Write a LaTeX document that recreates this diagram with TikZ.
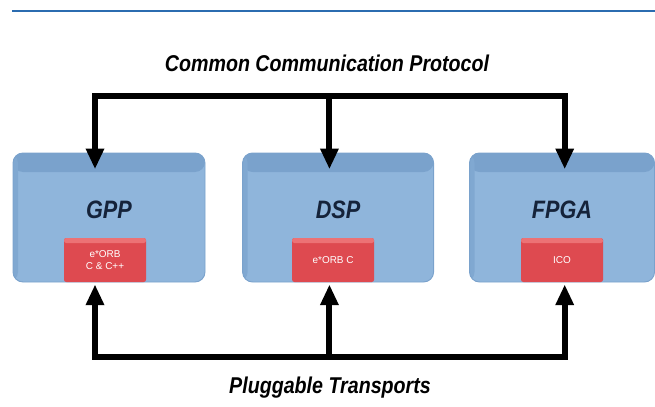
\documentclass[tikz,border=0pt]{standalone}
\usepackage{fontspec}
\setmainfont{Liberation Sans}
\newfontfamily\capfont[FakeStretch=0.86]{Liberation Sans}
\usetikzlibrary{positioning,arrows.meta}
\definecolor{boxblue}{HTML}{8FB5DB}
\definecolor{bandblue}{HTML}{7AA2CC}
\definecolor{orbred}{HTML}{DE4A50}
\definecolor{orbtop}{HTML}{EC7275}
\definecolor{rulecol}{HTML}{2B6CB0}
\definecolor{navy}{HTML}{15233A}

\begin{document}
\begin{tikzpicture}[node distance=1.1cm, auto, thick,
    unit/.style={draw=bandblue, fill=boxblue, rounded corners=0.3cm, minimum height=3.87cm,
        text depth=0.45cm, text=navy, font=\capfont\fontsize{21.5}{24}\selectfont\bfseries\itshape,
        path picture={\fill[bandblue] (path picture bounding box.north west) rectangle
            ([yshift=-0.57cm]path picture bounding box.north east);
            \fill[bandblue!70!boxblue] (path picture bounding box.north west) rectangle
            ([xshift=0.15cm]path picture bounding box.south west);}},
    orb/.style={fill=orbred, rounded corners=2pt, minimum width=2.46cm, minimum height=1.32cm,
        text=white, align=center, anchor=south, font=\fontsize{8.5}{10}\selectfont,
        path picture={\fill[orbtop] (path picture bounding box.north west) rectangle
            ([yshift=-0.15cm]path picture bounding box.north east);}},
    caption/.style={font=\capfont\fontsize{19.5}{22}\selectfont\bfseries\itshape},
    bus/.style={line width=0.18cm, line join=miter},
    tip/.style={-{Triangle[length=0.62cm,width=0.52cm]}}]

    \useasboundingbox (0,0) rectangle (19.65,-12.21);
    \draw[rulecol, line width=1.6pt] (0.36,-0.33) -- (19.65,-0.33);

    \node (ccp) [caption] at (9.81,-1.9) {Common Communication Protocol};

    \node (gpp) [unit, minimum width=5.76cm] at (3.27,-6.525) {GPP};
    \node (dsp) [unit, minimum width=5.73cm, right=of gpp] {DSP};
    \node (fpga) [unit, minimum width=5.55cm, right=1.05cm of dsp] {FPGA};

    \node (orbgpp) [orb] at ([xshift=-0.12cm]gpp.south) {e*ORB\\C \& C++};
    \node (orbdsp) [orb] at ([xshift=-0.15cm]dsp.south) {e*ORB C};
    \node (ico) [orb] at (fpga.south) {ICO};

    \node (pt) [caption] at (9.9,-11.62) {Pluggable Transports};

    \coordinate (topbus) at (0,-2.88);
    \coordinate (botbus) at (0,-10.71);
    \coordinate (tg) at ([xshift=-0.42cm]gpp.north);
    \coordinate (td) at ([xshift=-0.26cm]dsp.north);
    \coordinate (tf) at ([xshift=0.08cm]fpga.north);
    \coordinate (bg) at (tg |- gpp.south);
    \coordinate (bd) at (td |- dsp.south);
    \coordinate (bf) at (tf |- fpga.south);

    \draw[bus, tip] (tg |- topbus) -- ([yshift=-0.5cm]tg);
    \draw[bus, tip] (td |- topbus) -- ([yshift=-0.5cm]td);
    \draw[bus, tip] (tf |- topbus) -- ([yshift=-0.5cm]tf);
    \draw[bus] ([yshift=-0.09cm]tg |- topbus) |- (tf |- topbus) -- ([yshift=-0.09cm]tf |- topbus);

    \draw[bus, tip] (bg |- botbus) -- ([yshift=-0.06cm]bg);
    \draw[bus, tip] (bd |- botbus) -- ([yshift=-0.06cm]bd);
    \draw[bus, tip] (bf |- botbus) -- ([yshift=-0.06cm]bf);
    \draw[bus] ([yshift=0.09cm]bg |- botbus) |- (bf |- botbus) -- ([yshift=0.09cm]bf |- botbus);
\end{tikzpicture}
\end{document}
